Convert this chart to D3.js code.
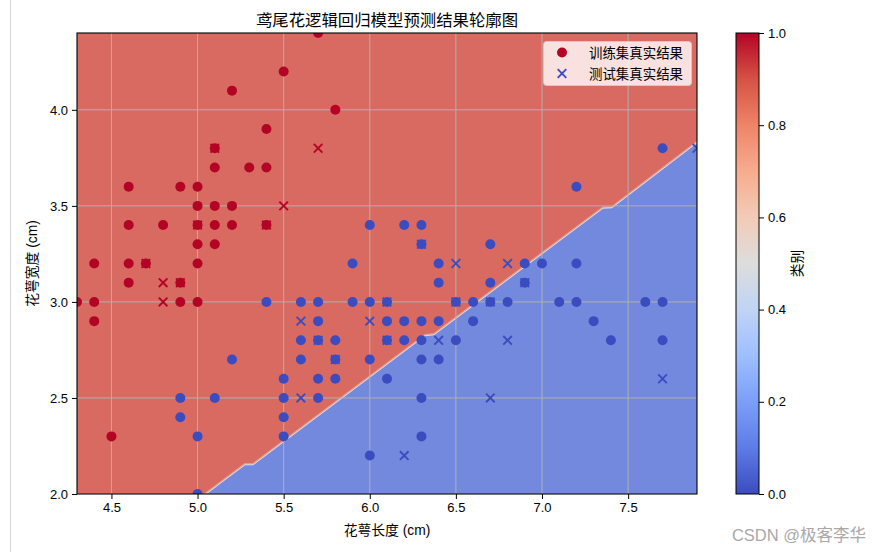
<!DOCTYPE html>
<html>
<head>
<meta charset="utf-8">
<script src="https://cdn.jsdelivr.net/npm/d3@7"></script>
<style>
  html, body { margin: 0; padding: 0; background: #ffffff; }
  svg { display: block; }
  text { font-family: "Liberation Sans", Arial, "Noto Sans CJK SC", sans-serif; }
</style>
</head>
<body>
<script>
// ---------------- data ----------------
const titleText = "鸢尾花逻辑回归模型预测结果轮廓图";
const xLabel = "花萼长度 (cm)";
const yLabel = "花萼宽度 (cm)";
const cbarLabel = "类别";
const legendLabels = ["训练集真实结果", "测试集真实结果"];
const watermark = "CSDN @极客李华";

const xDomain = [4.3, 7.9];
const yDomain = [2.0, 4.4];
const xTicks = [4.5, 5.0, 5.5, 6.0, 6.5, 7.0, 7.5];
const yTicks = [2.0, 2.5, 3.0, 3.5, 4.0];
const cbarTicks = [0.0, 0.2, 0.4, 0.6, 0.8, 1.0];

// training set, class 1 (red) [sepal length, sepal width]
const trainRed = [
  [5.7,4.4],[5.5,4.2],[5.2,4.1],[5.8,4.0],[5.4,3.9],[5.1,3.8],[5.1,3.7],[5.3,3.7],[5.4,3.7],
  [4.6,3.6],[4.9,3.6],[5.0,3.6],[5.0,3.5],[5.1,3.5],[5.2,3.5],[4.6,3.4],[4.8,3.4],[5.0,3.4],
  [5.1,3.4],[5.2,3.4],[5.4,3.4],[5.0,3.3],[5.1,3.3],[4.4,3.2],[4.6,3.2],[4.7,3.2],[5.0,3.2],
  [4.6,3.1],[4.9,3.1],[4.3,3.0],[4.4,3.0],[4.9,3.0],[5.0,3.0],[4.4,2.9],[4.5,2.3]
];
// training set, class 0 (blue)
const trainBlue = [
  [5.4,3.0],[5.6,3.0],[5.7,3.0],[5.7,2.9],[5.6,2.8],[5.7,2.8],[5.2,2.7],[5.6,2.7],[5.5,2.6],
  [5.7,2.6],[4.9,2.5],[5.1,2.5],[5.5,2.5],[5.7,2.5],[4.9,2.4],[5.5,2.4],[5.0,2.3],[5.5,2.3],
  [5.0,2.0],[6.0,3.4],[6.2,3.4],[6.3,3.4],[6.3,3.3],[6.7,3.3],[5.9,3.2],[6.4,3.2],[6.9,3.2],
  [7.0,3.2],[7.2,3.2],[6.4,3.1],[6.7,3.1],[6.9,3.1],[5.9,3.0],[6.0,3.0],[6.1,3.0],[6.5,3.0],
  [6.6,3.0],[6.7,3.0],[6.8,3.0],[7.1,3.0],[7.2,3.0],[7.6,3.0],[7.7,3.0],[6.1,2.9],[6.2,2.9],
  [6.3,2.9],[6.4,2.9],[6.6,2.9],[7.3,2.9],[5.8,2.8],[6.1,2.8],[6.2,2.8],[6.3,2.8],[6.5,2.8],
  [7.4,2.8],[7.7,2.8],[5.8,2.7],[6.0,2.7],[6.3,2.7],[6.4,2.7],[5.8,2.6],[6.1,2.6],[6.3,2.5],
  [6.3,2.3],[6.0,2.2],[7.7,3.8],[7.2,3.6]
];
// test set, class 1 (red)
const testRed = [
  [5.7,3.8],[5.5,3.5],[5.1,3.8],[5.0,3.4],[5.4,3.4],[4.7,3.2],[4.8,3.1],[4.9,3.1],[4.8,3.0]
];
// test set, class 0 (blue)
const testBlue = [
  [5.6,2.9],[5.7,2.8],[5.6,2.5],[6.0,2.9],[6.1,3.0],[6.1,2.8],[5.8,2.7],[6.3,3.3],[6.5,3.2],
  [6.8,3.2],[6.9,3.1],[6.5,3.0],[6.7,3.0],[6.4,2.8],[6.8,2.8],[6.7,2.5],[6.2,2.2],[7.7,2.6],
  [7.9,3.8]
];
// predicted decision boundary (contour between the two classes)
const decisionBoundary = [
  [5.043,2.0],[5.275,2.156],[5.322,2.156],[6.321,2.828],[6.373,2.833],
  [7.354,3.492],[7.406,3.494],[7.9,3.833]
];
// coolwarm colour stops for the colour bar
const coolwarmStops = ["#3b4cc0","#5d7ce6","#7b9ff9","#9ebeff","#c0d4f5","#dddddd",
                       "#f2cbb7","#f7ac8e","#ee8468","#d65244","#b40426"];

// ---------------- layout ----------------
const W = 883, H = 552;
const M = { left: 77, right: 697, top: 33, bottom: 494 };
const redFill = "#d96a61", blueFill = "#7389de";
const redPt = "#b40426", bluePt = "#3b4cc0";

const svg = d3.select("body").append("svg").attr("width", W).attr("height", H);
svg.append("rect").attr("width", W).attr("height", H).attr("fill", "#fff");
// page border line at left
svg.append("line").attr("x1", 10.5).attr("x2", 10.5).attr("y1", 0).attr("y2", H)
  .attr("stroke", "#d4d4d4").attr("stroke-width", 1);

const x = d3.scaleLinear().domain(xDomain).range([M.left, M.right]);
const y = d3.scaleLinear().domain(yDomain).range([M.bottom, M.top]);

const defs = svg.append("defs");
defs.append("clipPath").attr("id", "plotclip").append("rect")
  .attr("x", M.left).attr("y", M.top).attr("width", M.right - M.left).attr("height", M.bottom - M.top);

const plot = svg.append("g").attr("clip-path", "url(#plotclip)");
// red region (whole plot)
plot.append("rect").attr("x", M.left).attr("y", M.top)
  .attr("width", M.right - M.left).attr("height", M.bottom - M.top).attr("fill", redFill);
// blue region below the boundary
const bluePoly = decisionBoundary.concat([[xDomain[1], yDomain[0]]]);
plot.append("path")
  .attr("d", d3.line().x(d => x(d[0])).y(d => y(d[1]))(bluePoly) + "Z")
  .attr("fill", blueFill);
// thin light transition line
plot.append("path")
  .attr("d", d3.line().x(d => x(d[0])).y(d => y(d[1]))(decisionBoundary))
  .attr("fill", "none").attr("stroke", "#e39a8c").attr("stroke-width", 2);
plot.append("path")
  .attr("d", d3.line().x(d => x(d[0])).y(d => y(d[1] - 0.004))(decisionBoundary))
  .attr("fill", "none").attr("stroke", "#d6dcee").attr("stroke-width", 1);

// grid
const grid = plot.append("g");
xTicks.forEach(t => grid.append("line").attr("x1", x(t)).attr("x2", x(t))
  .attr("y1", M.top).attr("y2", M.bottom).attr("stroke", "#b0b0b0").attr("stroke-width", 1));
yTicks.forEach(t => grid.append("line").attr("y1", y(t)).attr("y2", y(t))
  .attr("x1", M.left).attr("x2", M.right).attr("stroke", "#b0b0b0").attr("stroke-width", 1));

// training points (circles)
function circles(data, color) {
  plot.append("g").selectAll("circle").data(data).join("circle")
    .attr("cx", d => x(d[0])).attr("cy", d => y(d[1])).attr("r", 5).attr("fill", color);
}
circles(trainRed, redPt);
circles(trainBlue, bluePt);
// test points (x markers)
const s = 4.3;
function crosses(data, color) {
  plot.append("g").selectAll("path").data(data).join("path")
    .attr("d", d => {
      const cx = x(d[0]), cy = y(d[1]);
      return `M${cx - s},${cy - s}L${cx + s},${cy + s}M${cx - s},${cy + s}L${cx + s},${cy - s}`;
    })
    .attr("stroke", color).attr("stroke-width", 1.9).attr("fill", "none");
}
crosses(testRed, redPt);
crosses(testBlue, bluePt);

// axes
const xAxis = svg.append("g").attr("transform", `translate(0,${M.bottom})`)
  .call(d3.axisBottom(x).tickValues(xTicks).tickFormat(d3.format(".1f")).tickSizeOuter(0).tickSize(5).tickPadding(4));
const yAxis = svg.append("g").attr("transform", `translate(${M.left},0)`)
  .call(d3.axisLeft(y).tickValues(yTicks).tickFormat(d3.format(".1f")).tickSizeOuter(0).tickSize(5).tickPadding(4));
[xAxis, yAxis].forEach(a => {
  a.select(".domain").remove();
  a.selectAll("text").attr("font-size", 13).attr("fill", "#000")
    .attr("font-family", '"Liberation Sans", Arial, sans-serif');
  a.selectAll("line").attr("stroke", "#000").attr("stroke-width", 1);
});
// spines
svg.append("rect").attr("x", M.left).attr("y", M.top)
  .attr("width", M.right - M.left).attr("height", M.bottom - M.top)
  .attr("fill", "none").attr("stroke", "#000").attr("stroke-width", 1.1);

// labels
svg.append("text").attr("x", (M.left + M.right) / 2).attr("y", 26)
  .attr("text-anchor", "middle").attr("font-size", 16.4).attr("fill", "#000").text(titleText);
svg.append("text").attr("x", (M.left + M.right) / 2).attr("y", 535)
  .attr("text-anchor", "middle").attr("font-size", 13.8).attr("fill", "#000").text(xLabel);
svg.append("text").attr("transform", `translate(37,${(M.top + M.bottom) / 2}) rotate(-90)`)
  .attr("text-anchor", "middle").attr("font-size", 13.8).attr("fill", "#000").text(yLabel);

// legend
const lg = svg.append("g");
lg.append("rect").attr("x", 543.5).attr("y", 41.5).attr("width", 148).attr("height", 44)
  .attr("rx", 3).attr("fill", "#ffffff").attr("fill-opacity", 0.8)
  .attr("stroke", "#cccccc").attr("stroke-width", 1);
lg.append("circle").attr("cx", 562).attr("cy", 52.5).attr("r", 5).attr("fill", redPt);
lg.append("path").attr("d", `M${562 - s},${73.5 - s}L${562 + s},${73.5 + s}M${562 - s},${73.5 + s}L${562 + s},${73.5 - s}`)
  .attr("stroke", bluePt).attr("stroke-width", 1.9);
lg.append("text").attr("x", 589).attr("y", 57.5).attr("textLength", 94).attr("lengthAdjust", "spacingAndGlyphs")
  .attr("font-size", 14).attr("fill", "#000").text(legendLabels[0]);
lg.append("text").attr("x", 589).attr("y", 78.5).attr("textLength", 94).attr("lengthAdjust", "spacingAndGlyphs")
  .attr("font-size", 14).attr("fill", "#000").text(legendLabels[1]);

// colour bar
const cb = { x: 736, w: 23, top: 33, bottom: 494 };
const grad = defs.append("linearGradient").attr("id", "cw")
  .attr("x1", 0).attr("y1", 1).attr("x2", 0).attr("y2", 0);
coolwarmStops.forEach((c, i) => grad.append("stop")
  .attr("offset", i / (coolwarmStops.length - 1)).attr("stop-color", c));
svg.append("rect").attr("x", cb.x).attr("y", cb.top).attr("width", cb.w)
  .attr("height", cb.bottom - cb.top).attr("fill", "url(#cw)")
  .attr("stroke", "#000").attr("stroke-width", 1);
const cy = d3.scaleLinear().domain([0, 1]).range([cb.bottom, cb.top]);
const cAxis = svg.append("g").attr("transform", `translate(${cb.x + cb.w},0)`)
  .call(d3.axisRight(cy).tickValues(cbarTicks).tickFormat(d3.format(".1f")).tickSizeOuter(0).tickSize(5).tickPadding(4));
cAxis.select(".domain").remove();
cAxis.selectAll("text").attr("font-size", 13).attr("fill", "#000")
  .attr("font-family", '"Liberation Sans", Arial, sans-serif');
cAxis.selectAll("line").attr("stroke", "#000");
svg.append("text").attr("transform", `translate(802,${(cb.top + cb.bottom) / 2}) rotate(-90)`)
  .attr("text-anchor", "middle").attr("font-size", 13.8).attr("fill", "#000").text(cbarLabel);

// watermark
svg.append("text").attr("x", 866).attr("y", 541).attr("text-anchor", "end")
  .attr("font-size", 16.5).attr("fill", "#a8a8a8").text(watermark);
</script>
</body>
</html>
